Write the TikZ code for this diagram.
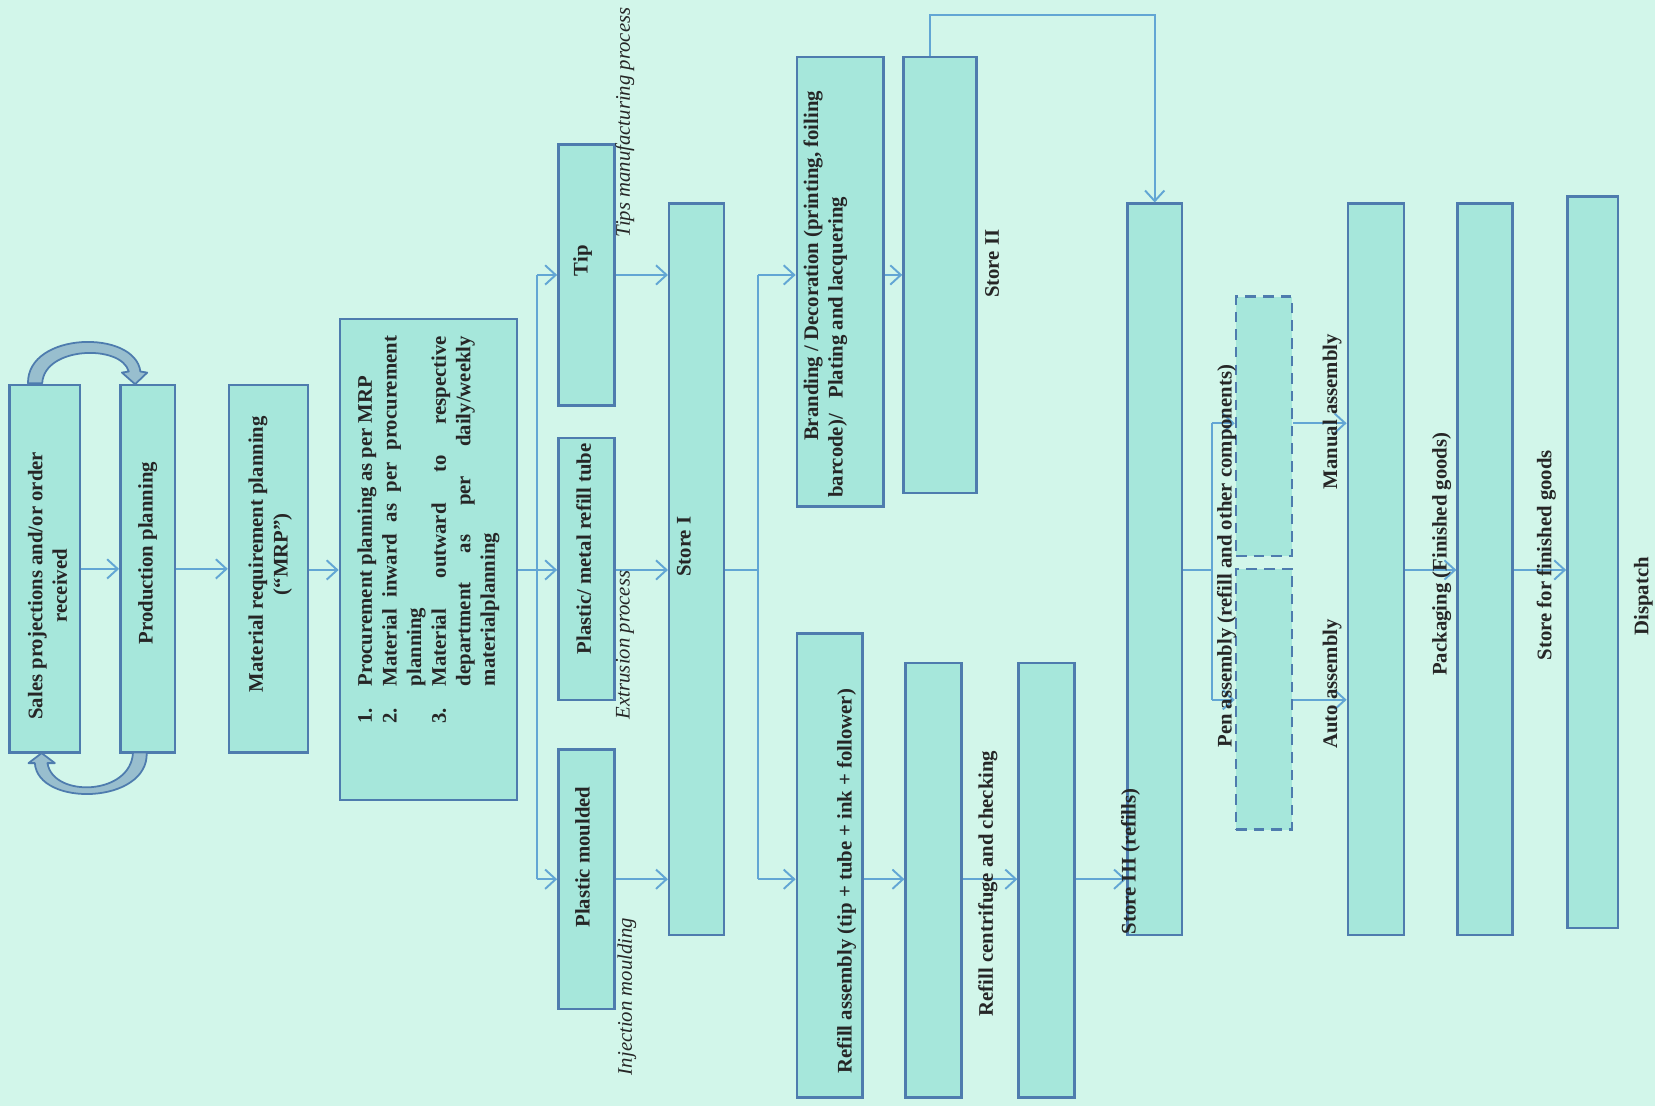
\documentclass[tikz,border=0pt]{standalone}
\usepackage{fontspec}
\setmainfont{Liberation Serif}
\usepackage{xcolor}
\usetikzlibrary{fit,arrows.meta}

\definecolor{paper}{RGB}{210,246,234}
\definecolor{boxfill}{RGB}{166,231,219}
\definecolor{boxline}{RGB}{78,124,174}
\definecolor{flowline}{RGB}{98,166,212}
\definecolor{loopfill}{RGB}{152,190,206}
\definecolor{ink}{RGB}{38,38,38}

\tikzset{
  box/.style={draw=boxline, fill=boxfill, line width=1.4pt, inner sep=0pt},
  dbox/.style={box, dash pattern=on 6pt off 4pt},
  wire/.style={draw=flowline, line width=1.1pt},
  flow/.style={wire, -{Straight Barb[length=6pt,width=11pt]}},
  txt/.style={rotate=90, text=ink, inner sep=0pt, font=\fontsize{11.8}{14}\selectfont\bfseries},
  lbl/.style={txt, align=center},
  note/.style={rotate=90, text=ink, inner sep=0pt, font=\fontsize{11.8}{14}\selectfont\itshape},
  loop/.style={draw=boxline, fill=loopfill, line width=1pt, line join=round}
}

\begin{document}
\begin{tikzpicture}[x=0.021107cm, y=-0.021107cm]
\fill[paper] (0,0) rectangle (1568,1048);
\useasboundingbox (0,0) rectangle (1568,1048);

\node[box, fit={(9,365) (76,713)}] (sales) {};
\node[box, fit={(114,365) (166,713)}] (prod) {};
\node[box, fit={(217,365) (292,713)}] (mrp) {};
\node[box, fit={(322,302) (490,758)}] (proc) {};

\node[box, fit={(529,137) (582,384)}] (tip) {};
\node[box, fit={(529,415) (582,663)}] (tube) {};
\node[box, fit={(529,710) (582,956)}] (mould) {};
\node[box, fit={(634,193) (686,886)}] (storeI) {};

\node[box, fit={(755,54) (837,480)}] (brand) {};
\node[box, fit={(856,54) (925,467)}] (storeII) {};
\node[box, fit={(755,600) (817,1040)}] (refill) {};
\node[box, fit={(858,628) (911,1040)}] (centri) {};
\node[box, fit={(965,628) (1018,1040)}] (checking) {};
\node[box, fit={(1068,193) (1120,886)}] (storeIII) {};

\node[dbox, fit={(1171,281) (1224,527)}] (manual) {};
\node[dbox, fit={(1171,539) (1224,786)}] (auto) {};
\node[box, fit={(1277,193) (1330,886)}] (assembly) {};
\node[box, fit={(1381,193) (1433,886)}] (packing) {};
\node[box, fit={(1485,186) (1533,879)}] (fgstore) {};

\filldraw[loop] (26.5,363) .. controls (26,314) and (128,312) .. (133,352) -- (139.5,353) -- (128,364)
  -- (115.5,353) -- (122,352) .. controls (115,326) and (42,328) .. (40,363) -- cycle;
\filldraw[loop] (139,713) .. controls (141,762) and (36,765) .. (33,723) -- (27,723) -- (39.5,713.5)
  -- (52,723) -- (45,723) .. controls (50,756) and (124,754) .. (126,713) -- cycle;

\coordinate (s1) at (509,540);
\coordinate (s2) at (718,540);
\coordinate (s3) at (1148,540);
\coordinate (s3a) at (1148,401);
\coordinate (s3b) at (1148,663);
\coordinate (up) at (881,14);

\draw[flow] (sales) -- (prod);
\draw[flow] (prod) -- (mrp);
\draw[flow] (mrp.east |- s1) -- (proc.west |- s1);
\draw[wire] (proc.east |- s1) -- (s1);
\draw[wire] (s1 |- tip) -- (s1 |- mould);
\draw[flow] (s1 |- tip) -- (tip);
\draw[flow] (s1) -- (tube.west |- s1);
\draw[flow] (s1 |- mould) -- (mould);
\draw[flow] (tip) -- (storeI.west |- tip);
\draw[flow] (tube.east |- s1) -- (storeI.west |- s1);
\draw[flow] (mould) -- (storeI.west |- mould);

\draw[wire] (storeI.east |- s2) -- (s2);
\draw[wire] (s2 |- tip) -- (s2 |- mould);
\draw[flow] (s2 |- tip) -- (brand.west |- tip);
\draw[flow] (s2 |- mould) -- (refill.west |- mould);
\draw[flow] (brand.east |- tip) -- (storeII.west |- tip);
\draw[flow] (storeII.north -| up) -- (up) -| (storeIII.north);
\draw[flow] (refill.east |- mould) -- (centri.west |- mould);
\draw[flow] (centri.east |- mould) -- (checking.west |- mould);
\draw[flow] (checking.east |- mould) -- (storeIII.west |- mould);

\draw[wire] (storeIII.east |- s3) -- (s3);
\draw[wire] (s3a) -- (s3b);
\draw[flow] (s3a) -- (manual.west |- s3a);
\draw[flow] (s3b) -- (auto.west |- s3b);
\draw[flow] (manual.east |- s3a) -- (assembly.west |- s3a);
\draw[flow] (auto.east |- s3b) -- (assembly.west |- s3b);
\draw[flow] (assembly.east |- s3) -- (packing.west |- s3);
\draw[flow] (packing.east |- s3) -- (fgstore.west |- s3);

\node[lbl] (t-sales) at (45,555) {Sales projections and/or order\\received};
\node[lbl] (t-prod) at (140,524) {Production planning};
\node[lbl] (t-mrp) at (256,525) {Material requirement planning\\(``MRP'')};
\node[txt] (t-proc) at (406,502) {\hyphenpenalty=10000 \tolerance=10000
  \begin{tabular}{@{}p{0.75cm}@{}p{7.0cm}@{}}
  1. & Procurement planning as per MRP\\
  2. & Material inward as per procurement planning\\
  3. & Material outward to respective department as per daily/weekly materialplanning
  \end{tabular}};
\node[lbl] (t-tip) at (552,247) {Tip};
\node[lbl] (t-tube) at (553,520) {Plastic/ metal refill tube};
\node[lbl] (t-mould) at (552,812) {Plastic moulded};
\node[note] (n-tip) at (592,116) {Tips manufacturing process};
\node[note] (n-tube) at (592,611) {Extrusion process};
\node[note] (n-mould) at (594,944) {Injection moulding};
\node[lbl] (t-storeI) at (648,518) {Store I};
\node[txt, align=left] (t-brand) at (782,279) {\hspace*{1.14cm}Branding / Decoration (printing, foiling\\barcode)/\ \ \ Plating and lacquering};
\node[lbl] (t-storeII) at (940,250) {Store II};
\node[lbl] (t-refill) at (802,835) {Refill assembly (tip + tube + ink + follower)};
\node[lbl] (t-centri) at (936,837) {Refill centrifuge and checking};
\node[lbl] (t-storeIII) at (1071,816) {Store III (refills)};
\node[lbl] (t-pen) at (1162,527) {Pen assembly (refill and other components)};
\node[lbl] (t-manual) at (1262,390) {Manual assembly};
\node[lbl] (t-auto) at (1262,648) {Auto assembly};
\node[lbl] (t-pack) at (1366,525) {Packaging (Finished goods)};
\node[lbl] (t-fg) at (1465,526) {Store for finished goods};
\node[lbl] (t-disp) at (1557,565) {Dispatch};
\end{tikzpicture}
\end{document}
